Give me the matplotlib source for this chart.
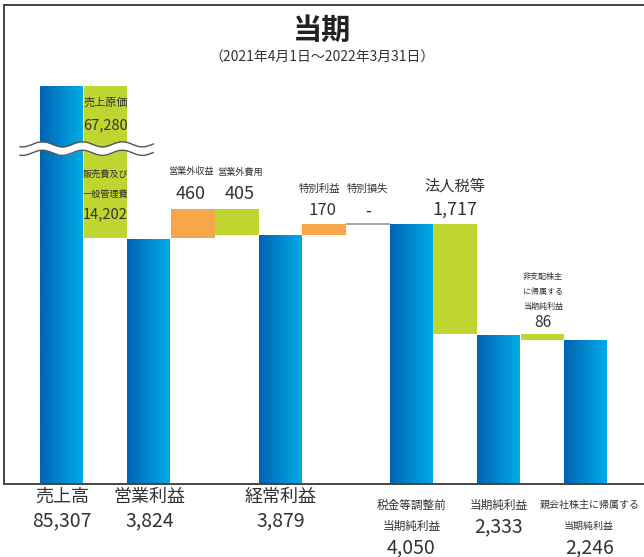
import numpy as np
import matplotlib
matplotlib.use("Agg")
import matplotlib.pyplot as plt
from matplotlib.colors import LinearSegmentedColormap

plt.rcParams['font.family'] = ['Noto Sans CJK JP', 'DejaVu Sans']

# ---- data (millions of yen) ----
sales = 85307
cost_of_sales = 67280
sga = 14202
operating_income = 3824
nonop_income = 460
nonop_expense = 405
ordinary_income = 3879
special_gain = 170
special_loss = 0
pretax_income = 4050
income_taxes = 1717
net_income = 2333
noncontrolling = 86
parent_income = 2246

total_labels = ["売上高", "営業利益", "経常利益", "税金等調整前\n当期純利益",
                "当期純利益", "親会社株主に帰属する\n当期純利益"]
total_values = [sales, operating_income, ordinary_income, pretax_income,
                net_income, parent_income]
total_slots = [0, 2, 5, 8, 10, 12]
# label font size and style ("big" = large one-line caption, "small" = stacked small caption)
total_label_sizes = [13, 13, 13, 8.4, 8.4, 7.2]
total_label_styles = ["big", "big", "big", "small", "small", "small"]

BLUE_DARK = "#0064b4"
BLUE_LIGHT = "#00aee9"
GREEN = "#bed62f"
ORANGE = "#f7a64b"
TEXT = "#333333"

# ---- broken y scale: the sales bar is cut between BREAK_LO and BREAK_HI ----
BREAK_LO = 5330
BREAK_HI = 84438
_src = [-1e6, BREAK_LO, BREAK_HI, 1e6]
_dst = [-1e6, BREAK_LO, BREAK_LO + 1, 1e6 - (BREAK_HI - BREAK_LO - 1)]


def fwd(y):
    return np.interp(y, _src, _dst)


def inv(y):
    return np.interp(y, _dst, _src)


fig = plt.figure(figsize=(6.44, 5.57), dpi=100)
ax = fig.add_axes([4 / 644, 73 / 557, 640 / 644, 479 / 557])
ax.set_yscale('function', functions=(fwd, inv))

for s in ['left', 'top', 'bottom']:
    ax.spines[s].set_color('#444444')
    ax.spines[s].set_linewidth(1.4)
ax.spines['right'].set_visible(False)
ax.set_xticks([])
ax.set_yticks([])

grad = LinearSegmentedColormap.from_list("bar", [BLUE_DARK, BLUE_LIGHT])
gimg = np.linspace(0, 1, 256).reshape(1, -1)

# ---- total bars with horizontal gradient ----
for slot, val in zip(total_slots, total_values):
    bar = ax.bar(slot, val, width=1.0, align='edge', facecolor='none',
                 linewidth=0, zorder=2)[0]
    im = ax.imshow(gimg, cmap=grad, aspect='auto', extent=(slot, slot + 1, 0, val),
                   interpolation='bilinear', zorder=2.1)
    im.set_clip_path(bar)

# ---- floating bars ----
ax.bar(1, sga, bottom=operating_income, width=1.0, align='edge', color=GREEN, lw=0, zorder=2)
ax.bar(1, cost_of_sales, bottom=operating_income + sga, width=1.0, align='edge',
       color=GREEN, lw=0, zorder=2)
ax.bar(3, nonop_income, bottom=operating_income, width=1.0, align='edge', color=ORANGE, lw=0, zorder=2)
ax.bar(4, nonop_expense, bottom=ordinary_income, width=1.0, align='edge', color=GREEN, lw=0, zorder=2)
ax.bar(6, special_gain, bottom=ordinary_income, width=1.0, align='edge', color=ORANGE, lw=0, zorder=2)
ax.hlines(pretax_income + special_loss, 7, 8, color='#999999', lw=1.2, zorder=2)
ax.bar(9, income_taxes, bottom=net_income, width=1.0, align='edge', color=GREEN, lw=0, zorder=2)
ax.bar(11, noncontrolling, bottom=parent_income, width=1.0, align='edge', color=GREEN, lw=0, zorder=2)

ax.set_ylim(0, inv(7461))
ax.set_xlim(-0.824, 13.82)

# ---- break marker (two parallel wavy lines, white between) ----
px_per_unit = 0.0642
slot_px = 43.7
wx = np.linspace(-0.46, 2.59, 400)
wave = 2.6 * np.sin(2 * np.pi * (wx * slot_px) / 40.0 + 1.2) / px_per_unit
upper = BREAK_LO - 2.5 / px_per_unit + wave
lower = BREAK_LO - 11.0 / px_per_unit + wave
ax.fill_between(wx, lower, upper, color='white', lw=0, zorder=3)
ax.plot(wx, upper, color='#555555', lw=1.0, zorder=4)
ax.plot(wx, lower, color='#555555', lw=1.0, zorder=4)


def note(x, y, dy, text, size, dx=0, **kw):
    ax.annotate(text, xy=(x, y), xytext=(dx, dy), textcoords='offset pixels',
                ha='center', va='center', fontsize=size, color=TEXT,
                annotation_clip=False, zorder=5, **kw)


NUM_FONT = ['Liberation Sans Narrow', 'Noto Sans CJK JP']

# cost labels inside the green block
note(1.5, sales, -17, "売上原価", 8)
note(1.5, sales, -39, f"{cost_of_sales:,}", 10.5, family=NUM_FONT)
note(1.5, operating_income, 64, "販売費及び", 6.6)
note(1.5, operating_income, 44, "一般管理費", 6.6)
note(1.5, operating_income, 24, f"{sga:,}", 10.5, family=NUM_FONT)

# labels above floating steps
top_nonop = operating_income + nonop_income
note(3.5, top_nonop, 37, "営業外収益", 6.6, dx=-2)
note(3.5, top_nonop, 15, f"{nonop_income:,}", 13, dx=-2)
note(4.5, top_nonop, 37, "営業外費用", 6.6, dx=3)
note(4.5, top_nonop, 15, f"{nonop_expense:,}", 13, dx=3)
note(6.5, pretax_income, 35, "特別利益", 7.5, dx=-5)
note(6.5, pretax_income, 13, f"{special_gain:,}", 12, dx=-2)
note(7.5, pretax_income, 35, "特別損失", 7.5)
note(7.5, pretax_income, 13, f"{special_loss:,}" if special_loss else "-", 12)
note(9.5, pretax_income, 38, "法人税等", 11)
note(9.5, pretax_income, 14, f"{income_taxes:,}", 13)
note(11.5, net_income, 58, "非支配株主", 5.8)
note(11.5, net_income, 43, "に帰属する", 5.8)
note(11.5, net_income, 28, "当期純利益", 5.8)
note(11.5, net_income, 12, f"{noncontrolling:,}", 11)

# labels under the total bars
for slot, lab, val, size, style in zip(total_slots, total_labels, total_values,
                                       total_label_sizes, total_label_styles):
    lines = lab.split("\n")
    dx = 3 if slot == 12 else 0
    if style == "big":
        note(slot + 0.5, 0, -13, lines[0], size)
        note(slot + 0.5, 0, -37, f"{val:,}", 14, family=NUM_FONT)
    else:
        for i, ln in enumerate(lines):
            note(slot + 0.5, 0, -21 - 21 * i, ln, size, dx=dx)
        note(slot + 0.5, 0, -21 - 21 * len(lines) - 1, f"{val:,}", 14,
             dx=dx, family=NUM_FONT)

fig.text(0.5, 1 - 30 / 557, "当期", ha='center', va='center', fontsize=21,
         fontweight='bold', color='#222222')
fig.text(0.5, 1 - 58 / 557, "（2021年4月1日～2022年3月31日）", ha='center', va='center',
         fontsize=10, color=TEXT)

fig.savefig("out.png", dpi=100)
